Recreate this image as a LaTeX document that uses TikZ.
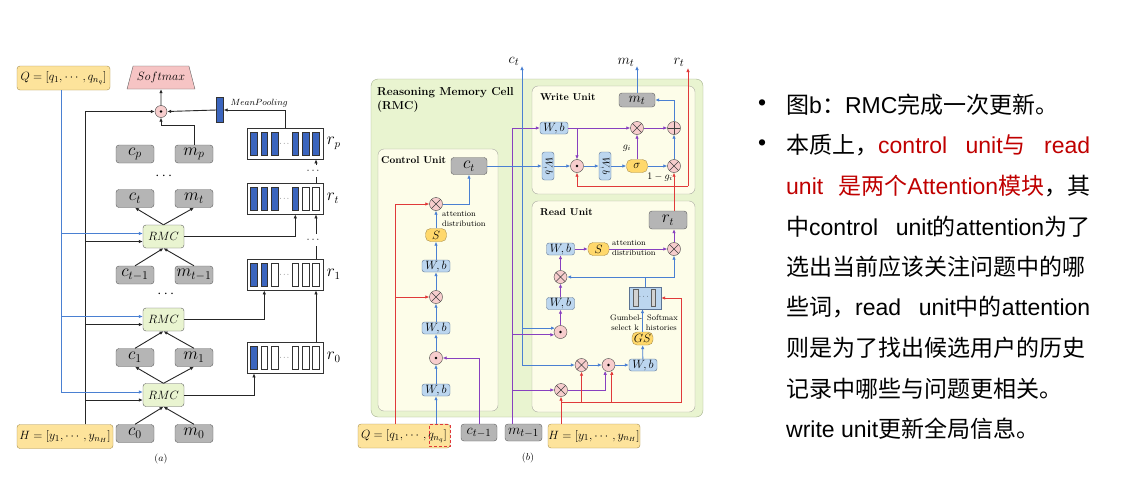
\documentclass[tikz,border=0pt]{standalone}
\usepackage{amsmath}
\usepackage{fontspec}
\newfontfamily\cjk{Noto Sans CJK SC}
\newfontfamily\lat{Liberation Sans}
\newcommand{\zh}[1]{{\cjk #1}}
\usetikzlibrary{arrows.meta,shapes.geometric,positioning}

\definecolor{grayfill}{HTML}{B5B5B5}
\definecolor{grayline}{HTML}{5F5F5F}
\definecolor{yelfill}{HTML}{FDE39B}
\definecolor{yelline}{HTML}{A88F4E}
\definecolor{rmcfill}{HTML}{E9F4D0}
\definecolor{rmcline}{HTML}{A4B08C}
\definecolor{unitfill}{HTML}{FDFDE9}
\definecolor{unitline}{HTML}{A9A9A0}
\definecolor{wbfill}{HTML}{BCD6EF}
\definecolor{wbline}{HTML}{5C7393}
\definecolor{gatefill}{HTML}{FFD86B}
\definecolor{opfill}{HTML}{F7CDCD}
\definecolor{smfill}{HTML}{F6C4C4}
\definecolor{barblue}{HTML}{3B65BE}
\definecolor{lblue}{HTML}{4A80D2}
\definecolor{lpurple}{HTML}{8840BF}
\definecolor{lred}{HTML}{E03A3A}
\definecolor{txtred}{HTML}{C00000}

\tikzset{
  fsz/.style={font=\fontsize{#1}{#1}\selectfont},
  rbox/.style={rounded corners=3pt,inner sep=0pt,draw=grayline},
  gbox/.style={rbox,fill=grayfill,minimum width=38pt,minimum height=18pt,fsz=17},
  inp/.style={rbox,draw=yelline,fill=yelfill,minimum height=24pt,fsz=12.5},
  rmcbox/.style={rbox,fill=rmcfill,minimum width=41pt,minimum height=23pt,fsz=12.5},
  wb/.style={rbox,rounded corners=2.5pt,draw=wbline,fill=wbfill,minimum width=28pt,minimum height=12pt,fsz=11.5},
  wbv/.style={wb,minimum width=28pt,minimum height=12pt,rotate=-90,fsz=10},
  gate/.style={rbox,rounded corners=5pt,draw=yelline,fill=gatefill,minimum width=21pt,minimum height=13pt,fsz=12},
  op/.style={circle,draw=black!75,fill=opfill,minimum size=13pt,inner sep=0pt},
  mulop/.style={op,path picture={\draw[black!75,line width=0.6pt]
      (path picture bounding box.north west)--(path picture bounding box.south east)
      (path picture bounding box.north east)--(path picture bounding box.south west);}},
  dotop/.style={op,path picture={\fill[black] (path picture bounding box.center) circle (1.4pt);}},
  addop/.style={op,path picture={\draw[black!75,line width=0.6pt]
      (path picture bounding box.north)--(path picture bounding box.south)
      (path picture bounding box.west)--(path picture bounding box.east);}},
  unitbox/.style={draw=unitline,fill=unitfill,rounded corners=6pt,inner sep=0pt},
  ttl/.style={anchor=west,inner sep=0pt,font=\fontsize{10}{12}\selectfont\bfseries},
  membox/.style={draw=black!80,line width=0.8pt,minimum width=76pt,minimum height=31pt,inner sep=0pt},
  slot/.style={draw=black!80,line width=0.6pt,minimum width=6.5pt,minimum height=23pt,inner sep=0pt},
  lk/.style={draw=black!85,line width=0.9pt},
  bl/.style={draw=lblue,line width=0.8pt},
  pl/.style={draw=lpurple,line width=0.8pt},
  rl/.style={draw=lred,line width=0.8pt},
  txt/.style={anchor=west,inner sep=0pt,font=\lat\fontsize{23}{27}\selectfont},
}

\begin{document}
\begin{tikzpicture}[x=1pt,y=-1pt,>={Latex[length=4pt,width=3.5pt]}]
\fill[white] (0,0) rectangle (1129,490);
\useasboundingbox (0,0) rectangle (1129,490);

% ---------------------------------------------------------
% (a): Kette der RMC-Zellen
% ---------------------------------------------------------
\node[inp,minimum width=93pt] (Q) at (63.5,78) {$Q=[q_1,\cdots,q_{n_q}]$};
\node[trapezium,trapezium angle=64,trapezium stretches=true,draw=grayline,fill=smfill,
      minimum width=68pt,minimum height=23pt,inner sep=0pt,fsz=12] (sm) at (161,77.5) {$Softmax$};
\node[dotop,minimum size=12pt] (pool) at (161,111.5) {};
\node[draw=black!80,fill=barblue,minimum width=7pt,minimum height=25pt,inner sep=0pt] (mpool) at (220,110) {};
\node[anchor=west,fsz=9.5] (mplab) at (227,103) {$MeanPooling$};

% Zustaende c und m
\node[gbox] (cp) at (135,154) {$c_p$};
\node[gbox] (mp) at (194,154) {$m_p$};
\node[fsz=14] (dots1) at (165,176) {$\cdots$};
\node[gbox] (ct) at (135,198.5) {$c_t$};
\node[gbox] (mt) at (194,198.5) {$m_t$};
\node[rmcbox] (R1) at (163.5,236.5) {$RMC$};
\node[gbox] (ctm) at (135,275) {$c_{t-1}$};
\node[gbox] (mtm) at (194,275) {$m_{t-1}$};
\node[fsz=14] (dots2) at (167,294) {$\cdots$};
\node[rmcbox] (R2) at (163.5,319.5) {$RMC$};
\node[gbox] (c1) at (135,357.5) {$c_1$};
\node[gbox] (m1) at (194,357.5) {$m_1$};
\node[rmcbox] (R3) at (163.5,395) {$RMC$};
\node[gbox] (c0) at (135,433.5) {$c_0$};
\node[gbox] (m0) at (194,433.5) {$m_0$};
\node[inp,minimum width=96pt] (H) at (65,436.5) {$H=[y_1,\cdots,y_{n_H}]$};
\node[fsz=10] (capa) at (161,459) {$(a)$};

% Speicher r
\foreach \nm/\yy/\nf/\lab in {rp/143.5/6/r_p,rt/198.5/4/r_t,r1/274.5/2/r_1,r0/357.5/1/r_0}{
  \node[membox] (\nm) at (285,\yy) {};
  \node[right=0pt of \nm,fsz=16] (\nm-lab) {$\lab$};
  \node[fsz=7] (\nm-dots) at (\nm.center) {$\cdots$};
  \foreach \i/\dx in {1/-31,2/-20.7,3/-10.3,4/10.3,5/20.7,6/31}{
    \ifnum\i>\nf\relax\def\slotcol{white}\else\def\slotcol{barblue}\fi
    \node[slot,fill=\slotcol] (\nm-\i) at ([xshift=\dx pt]\nm.center) {};
  }
}
\node[fsz=11] (dots3) at (314,240) {$\cdots$};
\node[fsz=11] (dots4) at (314,171) {$\cdots$};

% Q (blau) und H (schwarz) an die Zellen
\coordinate (qx) at ([xshift=-2.5pt]Q.south);
\coordinate (hx) at ([xshift=20pt]H.north);
\draw[lk,->] (hx) |- (pool.west);
\foreach \r in {R1,R2,R3}{
  \coordinate (\r-q) at ([yshift=3pt]\r.west);
  \coordinate (\r-h) at ([yshift=-5pt]\r.west);
  \draw[bl,->] (qx |- \r-q) -- (\r-q);
  \draw[lk,->] (hx |- \r-h) -- (\r-h);
}
\draw[bl] (qx) -- (qx |- R3-q);

\draw[lk,->] (c0.north) -- (R3.south);
\draw[lk,->] (m0.north) -- (R3.south);
\draw[lk,->] (R3.north) -- (c1.south);
\draw[lk,->] (R3.north) -- (m1.south);
\draw[lk,->] (c1.north) -- (R2.south);
\draw[lk,->] (m1.north) -- (R2.south);
\draw[lk,->] (ctm.north) -- (R1.south);
\draw[lk,->] (mtm.north) -- (R1.south);
\draw[lk,->] (R1.north) -- (ct.south);
\draw[lk,->] (R1.north) -- (mt.south);
\draw[lk,->] (mp.north) -- ++(0,-19) -| (pool.south);
\draw[lk,->] (pool.north) -- (sm.south);

\draw[lk,->] (R3.east) -| (r0-1 |- r0.south);
\draw[lk,->] (R2.east) -| (r1-2 |- r1.south);
\draw[lk,->] (R1.east) -| (rt-4 |- rt.south);
\draw[lk,->] (r0-6 |- r0.north) -- (r1-6 |- r1.south);
\draw[lk] (r1-6 |- r1.north) -- (r1-6 |- dots3.south);
\draw[lk,->] (rt-6 |- dots3.north) -- (rt-6 |- rt.south);
\draw[lk] (rt-6 |- rt.north) -- (rt-6 |- dots4.south);
\draw[lk,->] (rp-6 |- dots4.north) -- (rp-6 |- rp.south);
\draw[lk,->] (rp.north) |- (mpool.east);
\draw[lk,->] (mpool.west) -- (pool.east);

% ---------------------------------------------------------
% (b): eine RMC-Zelle
% ---------------------------------------------------------
\node[draw=rmcline,fill=rmcfill,rounded corners=7pt,minimum width=332pt,minimum height=338pt,inner sep=0pt] (cell) at (537,248) {};
\node[anchor=west,align=left,font=\fontsize{11.5}{14}\selectfont\bfseries,inner sep=0pt] (celltl) at (377,100) {Reasoning Memory Cell\\(RMC)};

\node[unitbox,minimum width=120pt,minimum height=262pt] (cu) at (438,280) {};
\node[ttl] (cutl) at (381,160) {Control Unit};
\node[unitbox,minimum width=163pt,minimum height=108pt] (wu) at (613.5,140) {};
\node[ttl] (wutl) at (540,97) {Write Unit};
\node[unitbox,minimum width=163pt,minimum height=211pt] (ru) at (613.5,306.5) {};
\node[ttl] (rutl) at (540,212) {Read Unit};

% Eingaenge
\node[inp,minimum width=92pt] (Q2) at (404,436) {$Q=[q_1,\cdots,q_{n_q}]$};
\node[draw=lred,densely dashed,minimum width=21pt,minimum height=22pt,inner sep=0pt] (qn) at (439.5,435.5) {};
\node[gbox,minimum width=36pt,minimum height=17pt,fsz=15] (cprev) at (479,432.5) {$c_{t-1}$};
\node[gbox,minimum width=37pt,minimum height=17pt,fsz=15] (mprev) at (523.5,432.5) {$m_{t-1}$};
\node[inp,minimum width=92pt] (H2) at (594,436) {$H=[y_1,\cdots,y_{n_H}]$};
\node[fsz=10] (capb) at (528,458) {$(b)$};

% Ausgaenge
\coordinate (ctop) at (522,66);
\node[fsz=15] (ctlab) at (514,61) {$c_t$};
\coordinate (mtop) at (637,66);
\node[fsz=15] (mtlab) at (626,62) {$m_t$};
\coordinate (rtop) at (688,68);
\node[fsz=15] (rtlab) at (679,62) {$r_t$};
\coordinate (rbend) at (688,186);
\coordinate (mx) at ([xshift=-11.5pt]mprev.north);
\coordinate (rbus) at (681,402);

% Control Unit
\node[gbox,minimum width=36pt,minimum height=17pt,fsz=16] (cct) at (469,166) {$c_t$};
\node[mulop] (cmul) at (436,204) {};
\node[anchor=west,align=left,font=\fontsize{8}{9.5}\selectfont,inner sep=0pt] (catt) at (442,219) {attention\\distribution};
\node[gate] (cS) at (436,235) {$S$};
\node[wb] (cwb3) at (436,266) {$W,b$};
\node[mulop] (cmul2) at (436,297) {};
\node[wb] (cwb2) at (436,328) {$W,b$};
\node[dotop] (cdot) at (436,358) {};
\node[wb] (cwb1) at (436,390) {$W,b$};

\draw[bl,->] (qn.north -| cwb1) -- (cwb1);
\draw[bl,->] (cwb1) -- (cdot);
\draw[bl,->] (cdot) -- (cwb2);
\draw[bl,->] (cwb2) -- (cmul2);
\draw[bl,->] (cmul2) -- (cwb3);
\draw[bl,->] (cwb3) -- (cS);
\draw[bl,->] (cS) -- (cmul);
\draw[bl,->] (cmul.east) -| (cct.south);
\draw[rl,->] ([xshift=-9pt]Q2.north) |- (cmul.west);
\draw[rl,->] ([xshift=-9pt]Q2.north |- cmul2) -- (cmul2.west);
\draw[pl,->] (cprev.north) |- (cdot.east);

% Read Unit (Knoten zuerst, r_t wird oben gebraucht)
\node[gbox,minimum width=38pt,minimum height=18pt,fsz=16] (rrt) at (668,220) {$r_t$};
\node[mulop] (rmul3) at (674,249) {};
\node[wb] (rwb3) at (560.5,249) {$W,b$};
\node[gate] (rS) at (598.5,249) {$S$};
\node[anchor=west,align=left,font=\fontsize{8}{9.5}\selectfont,inner sep=0pt] (ratt) at (612,248) {attention\\distribution};
\node[mulop] (rmul2) at (560.5,277) {};
\node[wb] (rwb2) at (560.5,303.5) {$W,b$};
\node[dotop] (rdot) at (560.5,332) {};
\node[draw=wbline,fill=wbfill,minimum width=32pt,minimum height=22pt,inner sep=0pt] (gumb) at (645,298) {};
\node[draw=grayline,fill=gray!35,minimum width=4.5pt,minimum height=17pt,inner sep=0pt] (gumb-1) at (635.5,298) {};
\node[draw=grayline,fill=gray!35,minimum width=4.5pt,minimum height=17pt,inner sep=0pt] (gumb-2) at (653,298) {};
\node[fsz=7] (gumb-d) at (644.5,297) {$\cdots$};
\node[align=center,font=\fontsize{8}{10}\selectfont,inner sep=0pt] (gumblab) at (644,323) {Gumbel-\hspace{5pt}Softmax\\select k\hspace{7pt}histories};
\node[gate] (rGS) at (642.5,338.5) {$GS$};
\node[wb] (rwb1) at (643,365) {$W,b$};
\node[mulop] (rmul1) at (581.5,365) {};
\node[dotop] (rdot2) at (608.5,365) {};
\node[mulop] (rmul0) at (561,390) {};

% Write Unit
\node[gbox,minimum width=36pt,minimum height=14pt,fsz=15] (wmt) at (637,100) {$m_t$};
\node[wb] (wwb) at (554,128) {$W,b$};
\node[mulop] (wmul) at (637,128) {};
\node[addop] (wadd) at (674,128) {};
\node[wbv] (wv1) at (548,166) {$W,b$};
\node[dotop] (wdot) at (577,166) {};
\node[wbv] (wv2) at (605,166) {$W,b$};
\node[gate] (wsig) at (637,166) {$\sigma$};
\node[mulop] (wmul2) at (674,166) {};
\node[fsz=10] (gi) at (627,148) {$g_i$};
\node[fsz=10] (gi1) at (660,177) {$1-g_i$};

\draw[pl,->] (mx) |- (wwb.west);
\draw[pl,->] (wwb) -- (wmul);
\draw[pl,->] (wmul) -- (wadd);
\draw[pl,->] (wwb.east -| wdot) -- (wdot.north);
\draw[bl,->] (cct.east) -- (wv1);
\draw[bl,->] (wv1) -- (wdot);
\draw[bl,->] (wdot) -- (wv2);
\draw[bl,->] (wv2) -- (wsig);
\draw[bl,->] (wsig) -- (wmul2);
\draw[bl,->] (wmul2) -- (wadd);
\draw[pl,->] (wsig) -- (wmul);
\draw[bl,->] (wadd.north) |- (wmt.east);
\draw[bl,->] (wmt.north) -- (mtop);
\draw[rl,->] (wmul2 |- rrt.north) -- (wmul2.south);
\draw[rl,->] (rbend) -| (wdot.south);
\draw[rl,->] (rbend) -- (rtop);

% Verbindungen Read Unit
\draw[pl,->] (rdot) -- (rwb2);
\draw[pl,->] (rwb2) -- (rmul2);
\draw[pl,->] (rmul2) -- (rwb3);
\draw[pl,->] (rwb3) -- (rS);
\draw[pl,->] (rS) -- (rmul3);
\draw[pl,->] (rmul3) -- (rmul3 |- rrt.south);
\draw[bl,->] (gumb.north) |- (rmul2.east);
\draw[bl,->] (gumb.north) |- (rmul3 |- rmul2) -- (rmul3.south);
\draw[bl,->] (rwb1) -- (rGS);
\draw[bl,->] (rGS) -- (rGS |- gumb.south);
\draw[bl,->] (rmul1) -- (rdot2);
\draw[bl,->] (rdot2) -- (rwb1);
\draw[bl,<->] (ctop) -- (ctop |- rmul1) -- (rmul1.west);
\draw[bl,->] (ctop |- rdot.145) -- (rdot.145);
\draw[pl,->] (mx |- rdot.205) -- (rdot.205);
\draw[pl,->] (mx |- rmul0) -- (rmul0.west);
\draw[pl,->] (rmul0.east) -| (rdot2.240);
\draw[rl,->] (H2.north -| rmul0) -- (rmul0.south);
\draw[rl,->] (H2.north -| rmul0) |- (rbus) |- (gumb.east);
\draw[rl,->] (rmul1 |- rbus) -- (rmul1.south);
\draw[rl,->] (rdot2.300 |- rbus) -- (rdot2.300);

% ---------------------------------------------------------
% Text rechts
% ---------------------------------------------------------
\node[txt] (bul1) at (758,105) {•};
\node[txt] (bul2) at (758,145.5) {•};
\node[txt] (l1) at (786,105) {\zh{图}b\zh{：}RMC\zh{完成一次更新。}};
\node[txt] (l2) at (786,145.5) {\makebox[304pt][s]{\zh{本质上，}{\color{txtred}control unit\zh{与} read}}};
\node[txt] (l3) at (786,186) {\makebox[304pt][s]{{\color{txtred}unit \zh{是两个}Attention\zh{模块}}\zh{，其}}};
\node[txt] (l4) at (786,226.5) {\makebox[304pt][s]{\zh{中}control unit\zh{的}attention\zh{为了}}};
\node[txt] (l5) at (786,267) {\zh{选出当前应该关注问题中的哪}};
\node[txt] (l6) at (786,307.5) {\makebox[304pt][s]{\zh{些词，}read unit\zh{中的}attention}};
\node[txt] (l7) at (786,348) {\zh{则是为了找出候选用户的历史}};
\node[txt] (l8) at (786,388.5) {\zh{记录中哪些与问题更相关。}};
\node[txt] (l9) at (786,429) {write unit\zh{更新全局信息。}};
\end{tikzpicture}
\end{document}
